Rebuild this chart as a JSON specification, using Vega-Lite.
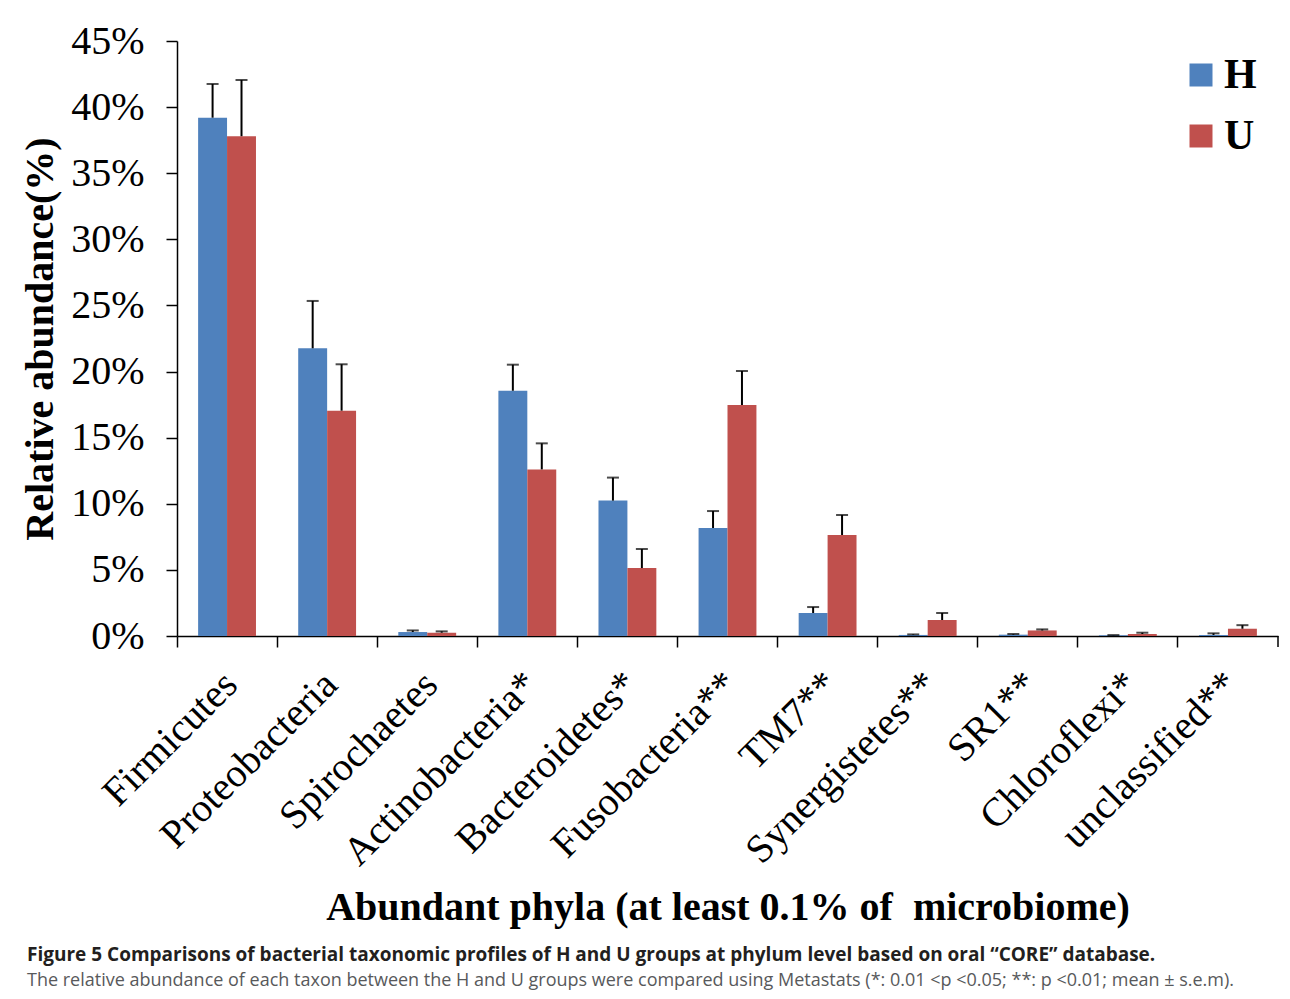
{
  "$schema": "https://vega.github.io/schema/vega-lite/v6.json",
  "width": 1101,
  "height": 595,
  "autosize": "none",
  "padding": {"left": 177, "top": 41, "right": 12, "bottom": 363},
  "background": "white",
  "config": {"view": {"stroke": null}},
  "title": {
    "text": "Figure 5 Comparisons of bacterial taxonomic profiles of H and U groups at phylum level based on oral “CORE” database.",
    "subtitle": "The relative abundance of each taxon between the H and U groups were compared using Metastats (*: 0.01 <p <0.05; **: p <0.01; mean ± s.e.m).",
    "orient": "bottom",
    "anchor": "start",
    "frame": "group",
    "dx": -150,
    "offset": 19,
    "font": "Open Sans",
    "fontSize": 19,
    "fontWeight": "bold",
    "color": "#231f20",
    "subtitleFont": "Open Sans",
    "subtitleFontSize": 18,
    "subtitleColor": "#58595b",
    "subtitlePadding": 7
  },
  "data": {
    "values": [
      {"phylum": "Firmicutes", "group": "H", "mean": 39.2, "upper": 41.75},
      {"phylum": "Firmicutes", "group": "U", "mean": 37.8, "upper": 42.05},
      {"phylum": "Proteobacteria", "group": "H", "mean": 21.76, "upper": 25.34},
      {"phylum": "Proteobacteria", "group": "U", "mean": 17.04, "upper": 20.55},
      {"phylum": "Spirochaetes", "group": "H", "mean": 0.3, "upper": 0.42},
      {"phylum": "Spirochaetes", "group": "U", "mean": 0.25, "upper": 0.35},
      {"phylum": "Actinobacteria*", "group": "H", "mean": 18.55, "upper": 20.52},
      {"phylum": "Actinobacteria*", "group": "U", "mean": 12.6, "upper": 14.57},
      {"phylum": "Bacteroidetes*", "group": "H", "mean": 10.24, "upper": 11.98},
      {"phylum": "Bacteroidetes*", "group": "U", "mean": 5.14, "upper": 6.58},
      {"phylum": "Fusobacteria**", "group": "H", "mean": 8.17, "upper": 9.45},
      {"phylum": "Fusobacteria**", "group": "U", "mean": 17.47, "upper": 20.04},
      {"phylum": "TM7**", "group": "H", "mean": 1.74, "upper": 2.19},
      {"phylum": "TM7**", "group": "U", "mean": 7.64, "upper": 9.15},
      {"phylum": "Synergistetes**", "group": "H", "mean": 0.08, "upper": 0.12},
      {"phylum": "Synergistetes**", "group": "U", "mean": 1.21, "upper": 1.74},
      {"phylum": "SR1**", "group": "H", "mean": 0.1, "upper": 0.15},
      {"phylum": "SR1**", "group": "U", "mean": 0.42, "upper": 0.5},
      {"phylum": "Chloroflexi*", "group": "H", "mean": 0.05, "upper": 0.07},
      {"phylum": "Chloroflexi*", "group": "U", "mean": 0.15, "upper": 0.25},
      {"phylum": "unclassified**", "group": "H", "mean": 0.08, "upper": 0.2},
      {"phylum": "unclassified**", "group": "U", "mean": 0.55, "upper": 0.82}
    ]
  },
  "encoding": {
    "x": {
      "field": "phylum",
      "type": "nominal",
      "sort": null,
      "scale": {"paddingInner": 0, "paddingOuter": 0},
      "axis": {
        "title": "Abundant phyla (at least 0.1% of\u00a0 microbiome)",
        "titleFont": "Liberation Serif",
        "titleFontSize": 40,
        "titleFontWeight": "bold",
        "titleColor": "black",
        "titleBaseline": "alphabetic",
        "titleY": 283,
        "labelAngle": -45,
        "labelAlign": "right",
        "labelBaseline": "middle",
        "labelFont": "Liberation Serif",
        "labelFontSize": 40,
        "labelColor": "black",
        "labelLimit": 0,
        "labelPadding": 31,
        "labelOffset": 4,
        "bandPosition": 0,
        "tickSize": 11,
        "tickColor": "black",
        "tickWidth": 1.5,
        "domainColor": "black",
        "domainWidth": 1.5,
        "grid": false
      }
    },
    "xOffset": {
      "field": "group",
      "type": "nominal",
      "scale": {"paddingInner": 0, "paddingOuter": 0.73}
    }
  },
  "layer": [
    {
      "mark": {"type": "bar"},
      "encoding": {
        "y": {
          "field": "mean",
          "type": "quantitative",
          "scale": {"domain": [0, 45], "nice": false},
          "axis": {
            "title": "Relative abundance(%)",
            "titleFont": "Liberation Serif",
            "titleFontSize": 40,
            "titleFontWeight": "bold",
            "titleColor": "black",
            "titlePadding": 10,
            "values": [0, 5, 10, 15, 20, 25, 30, 35, 40, 45],
            "labelExpr": "datum.value + '%'",
            "labelFont": "Liberation Serif",
            "labelFontSize": 40,
            "labelColor": "black",
            "labelPadding": 22,
            "tickSize": 11,
            "tickColor": "black",
            "tickWidth": 1.5,
            "domainColor": "black",
            "domainWidth": 1.5,
            "grid": false
          }
        },
        "color": {
          "field": "group",
          "type": "nominal",
          "scale": {"domain": ["H", "U"], "range": ["#4F81BD", "#C0504D"]},
          "legend": {
            "title": null,
            "orient": "none",
            "legendX": 1003,
            "legendY": 13,
            "padding": 0,
            "symbolType": "square",
            "symbolSize": 529,
            "symbolStrokeWidth": 0,
            "labelFont": "Liberation Serif",
            "labelFontSize": 42,
            "labelFontWeight": "bold",
            "labelColor": "black",
            "labelOffset": 2,
            "rowPadding": 19
          }
        }
      }
    },
    {
      "mark": {"type": "rule", "color": "black", "strokeWidth": 2},
      "encoding": {
        "y": {"field": "mean", "type": "quantitative"},
        "y2": {"field": "upper"}
      }
    },
    {
      "mark": {"type": "tick", "color": "black", "thickness": 2, "size": 12},
      "encoding": {
        "y": {"field": "upper", "type": "quantitative"}
      }
    },
    {
      "data": {"values": [{"phylum": "unclassified**"}]},
      "mark": {"type": "rule", "color": "black", "strokeWidth": 1.5, "y2Offset": 11},
      "encoding": {
        "x": {"field": "phylum", "type": "nominal", "bandPosition": 1},
        "xOffset": null,
        "y": {"datum": 0},
        "y2": {"datum": 0}
      }
    }
  ]
}
